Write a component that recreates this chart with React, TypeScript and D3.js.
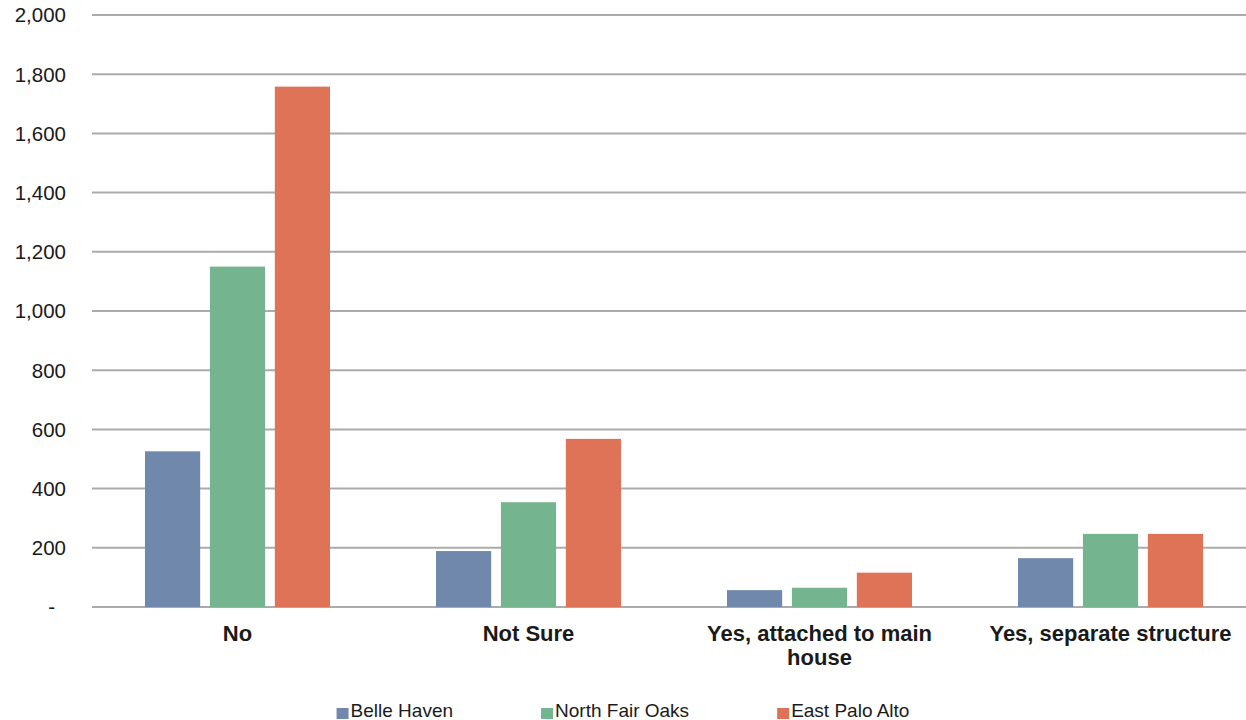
import React, { useEffect, useRef } from "react";
import * as d3 from "d3";

const categories = ["No", "Not Sure", "Yes, attached to main house", "Yes, separate structure"];
const seriesNames = ["Belle Haven", "North Fair Oaks", "East Palo Alto"];
const belleHaven = [526, 189, 57, 165];
const northFairOaks = [1150, 354, 65, 247];
const eastPaloAlto = [1758, 568, 116, 247];
const yTicks = [0, 200, 400, 600, 800, 1000, 1200, 1400, 1600, 1800, 2000];
const colors = ["#6F88AB", "#74B48E", "#DF7358"];

const W = 1246;
const H = 720;
const FONT = "'Liberation Sans', Arial, sans-serif";

export default function App() {
  const ref = useRef<SVGSVGElement | null>(null);

  useEffect(() => {
    const svg = d3.select(ref.current);
    svg.selectAll("*").remove();
    const values = [belleHaven, northFairOaks, eastPaloAlto];

    const x0 = d3.scaleBand<string>().domain(categories).range([92, 92 + 4 * 291]).padding(0);
    const x1 = d3.scaleBand<string>().domain(seriesNames).range([53, 238]).paddingInner(0.15).paddingOuter(0);
    const y = d3.scaleLinear().domain([0, 2000]).range([607, 15]);

    // gridlines
    svg.append("g")
      .selectAll("line")
      .data(yTicks)
      .join("line")
      .attr("x1", 92)
      .attr("x2", W)
      .attr("y1", (d) => y(d))
      .attr("y2", (d) => y(d))
      .attr("stroke", "#ABABAB")
      .attr("stroke-width", 2);

    // tick labels
    const fmt = d3.format(",");
    svg.append("g")
      .selectAll("text")
      .data(yTicks)
      .join("text")
      .attr("x", (d) => (d === 0 ? 55 : 66))
      .attr("y", (d) => y(d))
      .attr("dy", "0.36em")
      .attr("text-anchor", "end")
      .attr("font-family", FONT)
      .attr("font-size", 20.5)
      .attr("fill", "#1a1a1a")
      .text((d) => (d === 0 ? "-" : fmt(d)));

    // bars
    seriesNames.forEach((s, si) => {
      svg.append("g")
        .selectAll("rect")
        .data(values[si])
        .join("rect")
        .attr("x", (_d, i) => (x0(categories[i]) as number) + (x1(s) as number))
        .attr("width", x1.bandwidth())
        .attr("y", (d) => y(d))
        .attr("height", (d) => y(0) - y(d))
        .attr("fill", colors[si]);
    });

    // category labels with wrapping
    const catG = svg.append("g");
    categories.forEach((c) => {
      const cx = (x0(c) as number) + x0.bandwidth() / 2;
      const t = catG.append("text")
        .attr("x", cx)
        .attr("y", 640.5)
        .attr("text-anchor", "middle")
        .attr("font-family", FONT)
        .attr("font-weight", "bold")
        .attr("font-size", 22)
        .attr("fill", "#1a1a1a");
      const words = c.split(" ");
      let line: string[] = [];
      let lineNo = 0;
      let tspan = t.append("tspan").attr("x", cx).attr("y", 640.5);
      words.forEach((w) => {
        line.push(w);
        tspan.text(line.join(" "));
        const node = tspan.node() as SVGTSpanElement;
        if (node.getComputedTextLength() > 262 && line.length > 1) {
          line.pop();
          tspan.text(line.join(" "));
          line = [w];
          lineNo += 1;
          tspan = t.append("tspan").attr("x", cx).attr("y", 640.5 + lineNo * 24.5).text(w);
        }
      });
    });

    // legend
    const legG = svg.append("g");
    const items = seriesNames.map((s, i) => {
      const g = legG.append("g");
      g.append("rect").attr("x", 0).attr("y", 708).attr("width", 12).attr("height", 11).attr("fill", colors[i]);
      const tx = g.append("text")
        .attr("x", 14)
        .attr("y", 716.5)
        .attr("font-family", FONT)
        .attr("font-size", 19)
        .attr("fill", "#1a1a1a")
        .text(s);
      const w = 14 + (tx.node() as SVGTextElement).getComputedTextLength();
      return { g, w };
    });
    const gap = 88;
    const total = d3.sum(items, (d) => d.w) + gap * (items.length - 1);
    let cur = W / 2 - total / 2;
    items.forEach((it) => {
      it.g.attr("transform", `translate(${cur},0)`);
      cur += it.w + gap;
    });
  }, []);

  return (
    <div style={{ position: "absolute", left: 0, top: 0, width: W, height: H, background: "#fff" }}>
      <svg ref={ref} width={W} height={H} style={{ display: "block" }} />
    </div>
  );
}
